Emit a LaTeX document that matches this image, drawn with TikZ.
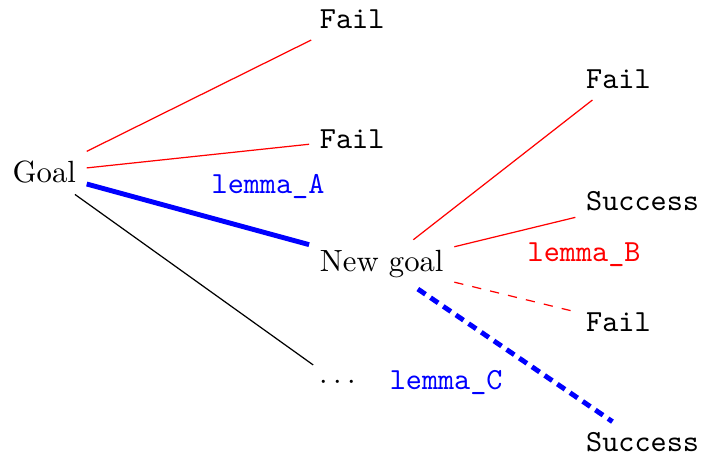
\documentclass[tikz,border=0pt]{standalone}
\usepackage{fontspec}
\usepackage{tikz}

\begin{document}
\begin{tikzpicture}[every node/.style={anchor=base west},
                    lbl/.style={font=\ttfamily},
                    bad/.style={draw=red}]
  \useasboundingbox (0,0) rectangle (8.04,-5.29);
  \node (goal) at (0.02,-2.095) {Goal};
  \node[lbl] (f1) at (3.54,-0.332) {Fail};
  \node[lbl] (f2) at (3.54,-1.706) {Fail};
  \node (ng) at (3.54,-3.114) {New goal};
  \node (dots) at (3.54,-4.46) {$\cdots$};
  \node[lbl] (f3) at (6.59,-1.019) {Fail};
  \node[lbl] (s1) at (6.59,-2.41) {Success};
  \node[lbl] (f4) at (6.59,-3.798) {Fail};
  \node[lbl] (s2) at (6.59,-5.172) {Success};
  \node[lbl,blue] (la) at (2.30,-2.221) {lemma\_A};
  \node[lbl,red] (lb) at (5.92,-2.996) {lemma\_B};
  \node[lbl,blue] (lc) at (4.34,-4.46) {lemma\_C};
  \draw[bad] (goal)--(f1) (goal)--(f2);
  \draw[blue,ultra thick] (goal)--(ng);
  \draw (goal)--(dots);
  \draw[bad] (ng)--(f3) (ng)--(s1);
  \draw[bad,dashed] (ng)--(f4);
  \draw[blue,ultra thick,densely dashed] (ng)--(s2);
\end{tikzpicture}
\end{document}
